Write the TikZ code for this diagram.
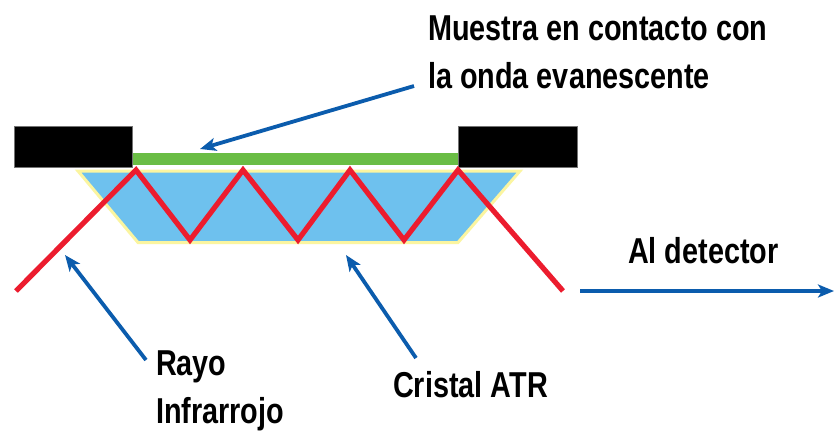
\documentclass[tikz,border=0pt]{standalone}
\usepackage{fontspec}
\setmainfont{Liberation Sans}
\usetikzlibrary{arrows.meta}
\definecolor{cblue}{HTML}{6EC1EE}
\definecolor{cgreen}{HTML}{6ABD45}
\definecolor{cred}{HTML}{EC1C2E}
\definecolor{carrow}{HTML}{0B5CAD}
\definecolor{cyel}{HTML}{FBF5A0}
\begin{document}
\begin{tikzpicture}[x=1pt,y=-1pt,
  lbl/.style={font=\fontsize{36}{40}\selectfont\bfseries, inner sep=0, anchor=west, transform shape, xscale=0.8, text=black},
  ray/.style={draw=cred, line width=5.2pt, line join=miter},
  note/.style={draw=carrow, line width=3.8pt, -{Stealth[length=16pt,width=13pt,inset=4pt]}},
  blk/.style={fill=black, draw=black!55, line width=0.6pt}]
\useasboundingbox (0,0) rectangle (834,432);
\fill[white] (0,0) rectangle (834,432);
\coordinate (a) at (78,171); \coordinate (b) at (520,171); \coordinate (c) at (458,242.5); \coordinate (d) at (138,242.5);
\draw[draw=cyel, fill=cblue, line width=3pt] (a) -- (b) -- (c) -- (d) -- cycle;
\path[blk] (14,126.5) rectangle (132.5,167);
\path[blk] (458,126.5) rectangle (577,167);
\fill[cgreen] (133,153) rectangle (458,164.5);
\coordinate (r0) at (16,291); \coordinate (r1) at (136,170); \coordinate (r2) at (190,240); \coordinate (r3) at (243,170); \coordinate (r4) at (298,240); \coordinate (r5) at (350,170); \coordinate (r6) at (404,240); \coordinate (r7) at (458,170); \coordinate (r8) at (563,291);
\draw[ray] (r0) -- (r1) -- (r2) -- (r3) -- (r4) -- (r5) -- (r6) -- (r7) -- (r8);
\node[lbl] (m1) at (428,28) {Muestra en contacto con};
\node[lbl] (m2) at (428,76) {la onda evanescente};
\node[lbl] (det) at (628,251) {Al detector};
\node[lbl] (ray1) at (156,367) {Rayo};
\node[lbl] (ray2) at (156,414) {Infrarrojo};
\node[lbl] (cris) at (393,385) {Cristal ATR};
\coordinate (t1) at (200,149); \coordinate (s1) at (414,86);
\coordinate (t2) at (65,255); \coordinate (s2) at (146,360);
\coordinate (t3) at (346,255); \coordinate (s3) at (416,358);
\coordinate (s4) at (580,291); \coordinate (t4) at (834,291);
\draw[note] (s1) -- (t1);
\draw[note] (s2) -- (t2);
\draw[note] (s3) -- (t3);
\draw[note] (s4) -- (t4);
\end{tikzpicture}
\end{document}
